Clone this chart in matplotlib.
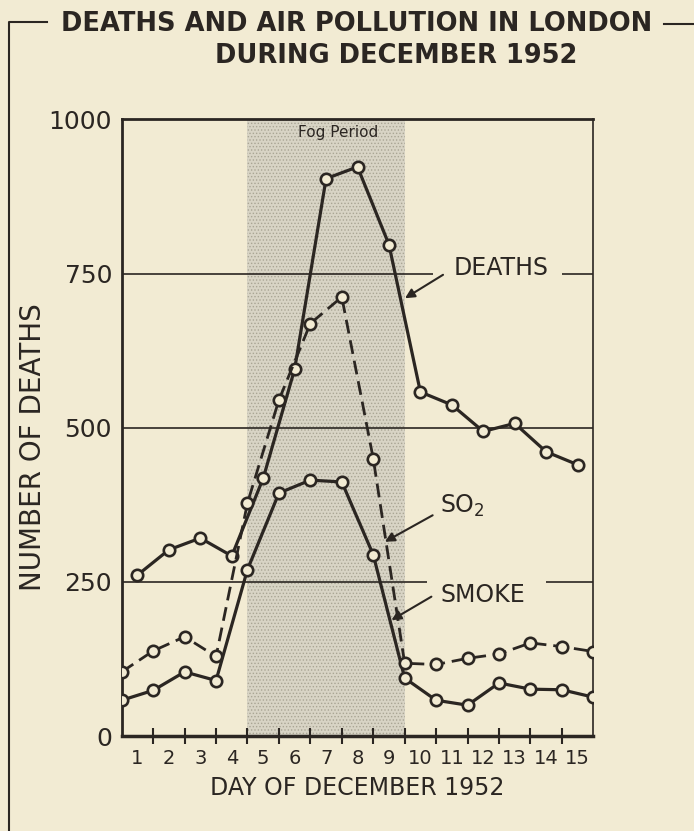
import numpy as np
import matplotlib.pyplot as plt
from matplotlib.lines import Line2D

# day-of-month values (deaths are daily totals, pollution plotted at day boundaries)
days = list(range(1, 16))
day_labels = [str(d) for d in days]
deaths = [261, 302, 321, 292, 418, 595, 904, 923, 797, 558, 537, 494, 507, 461, 440]
smoke = [58, 74, 104, 90, 270, 394, 415, 412, 294, 94, 58, 50, 86, 76, 75, 63]
so2 = [104, 138, 161, 129, 378, 545, 669, 712, 450, 118, 116, 126, 133, 151, 145, 137]
edges = np.arange(0.5, 16.0, 1.0)  # boundaries between days, 16 of them
fog_start, fog_end = 4.5, 9.5
y_ticks = [0, 250, 500, 750, 1000]

BG = '#f2ebd3'
INK = '#2b2622'
FOG = '#d8d4c5'

plt.rcParams['font.family'] = ['DejaVu Sans']
plt.rcParams['hatch.linewidth'] = 0.6

fig = plt.figure(figsize=(6.94, 8.31), dpi=100, facecolor=BG)
ax = fig.add_axes([0.1754, 0.1143, 0.6795, 0.742])
ax.set_facecolor(BG)

# fog period shading
ax.axvspan(fog_start, fog_end, facecolor=FOG, edgecolor='#a9a594', hatch='.....',
           linewidth=0, zorder=0)
ax.text((fog_start + fog_end) / 2 + 0.37, 978, 'Fog Period', ha='center', va='center',
        fontsize=11, color=INK, zorder=2)

# horizontal reference lines, broken where the labels sit
ax.hlines(250, 0.5, 10.2, color=INK, lw=1.2, zorder=1)
ax.hlines(250, 14.0, 15.5, color=INK, lw=1.2, zorder=1)
ax.hlines(500, 0.5, 15.5, color=INK, lw=1.2, zorder=1)
ax.hlines(750, 0.5, 10.4, color=INK, lw=1.2, zorder=1)
ax.hlines(750, 14.5, 15.5, color=INK, lw=1.2, zorder=1)

mk = dict(marker='o', markersize=8.2, markerfacecolor=BG, markeredgecolor=INK,
          markeredgewidth=1.9, color=INK, zorder=3)
ax.plot(days, deaths, lw=2.3, **mk)
ax.plot(edges, smoke, lw=2.3, **mk)
ax.plot(edges, so2, lw=2.0, dashes=(5, 2.5), **mk)

# labels with arrows
ax.text(12.56, 748, 'DEATHS', ha='center', va='baseline', fontsize=17, color=INK)
ax.annotate('', xy=(9.51, 710), xytext=(10.72, 748),
            arrowprops=dict(arrowstyle='-|>', color=INK, lw=1.5, mutation_scale=14,
                            shrinkA=0, shrinkB=0))
ax.text(10.62, 362, r'SO$_2$', ha='left', va='baseline', fontsize=17, color=INK)
ax.annotate('', xy=(8.87, 315), xytext=(10.39, 358),
            arrowprops=dict(arrowstyle='-|>', color=INK, lw=1.5, mutation_scale=14,
                            shrinkA=0, shrinkB=0))
ax.text(12.0, 218, 'SMOKE', ha='center', va='baseline', fontsize=17, color=INK)
ax.annotate('', xy=(9.08, 188), xytext=(10.35, 226),
            arrowprops=dict(arrowstyle='-|>', color=INK, lw=1.5, mutation_scale=14,
                            shrinkA=0, shrinkB=0))

ax.set_xlim(0.5, 15.5)
ax.set_ylim(0, 1000)
ax.set_yticks(y_ticks)
ax.set_yticklabels([str(v) for v in y_ticks])
ax.set_xticks(days)
ax.set_xticklabels(day_labels)
ax.set_xticks(edges[1:-1], minor=True)
ax.tick_params(axis='y', length=0, pad=7, labelsize=18, labelcolor=INK)
ax.tick_params(axis='x', which='major', length=0, pad=9, labelsize=14, labelcolor=INK)
ax.tick_params(axis='x', which='minor', direction='inout', length=12, width=1.5, color=INK)

for side, w in [('left', 2.0), ('bottom', 2.5), ('top', 2.0), ('right', 1.2)]:
    ax.spines[side].set_linewidth(w)
    ax.spines[side].set_color(INK)

ax.set_xlabel('DAY OF DECEMBER 1952', fontsize=17, color=INK, labelpad=6)
fig.text(33 / 694, 1 - 447 / 831, 'NUMBER OF DEATHS', rotation=90, ha='center',
         va='center', fontsize=20, color=INK)

# title and bracket frame
fig.text(357 / 694, 1 - 24 / 831, 'DEATHS AND AIR POLLUTION IN LONDON', ha='center',
         va='center', fontsize=18.5, fontweight='bold', color=INK)
fig.text(396 / 694, 1 - 56 / 831, 'DURING DECEMBER 1952', ha='center',
         va='center', fontsize=18.5, fontweight='bold', color=INK)
fig.add_artist(Line2D([9 / 694, 9 / 694, 47 / 694], [0, 1 - 22 / 831, 1 - 22 / 831],
                      transform=fig.transFigure, color=INK, lw=1.5))
fig.add_artist(Line2D([664 / 694, 1.0], [1 - 24 / 831, 1 - 24 / 831],
                      transform=fig.transFigure, color=INK, lw=1.5))

fig.savefig('out.png', dpi=100, facecolor=BG)
